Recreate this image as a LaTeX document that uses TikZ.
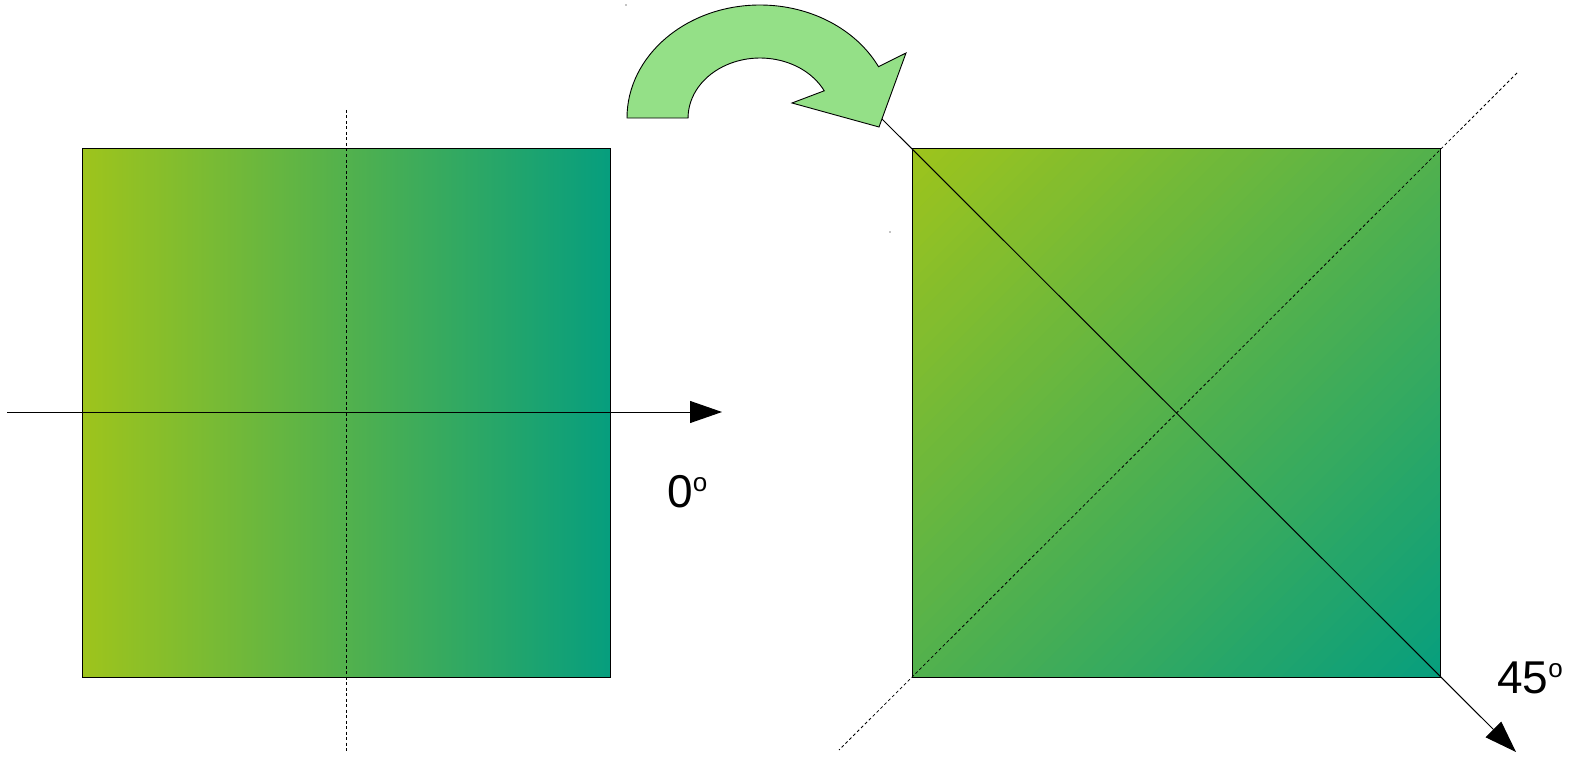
\documentclass[tikz,border=0pt]{standalone}
\usepackage{fontspec}
\setmainfont{Liberation Sans}
\usetikzlibrary{arrows.meta}
\definecolor{gA}{RGB}{158,196,28}
\definecolor{gB}{RGB}{6,158,126}
\definecolor{arrowgreen}{RGB}{148,224,135}
\begin{document}
\begin{tikzpicture}[x=1pt,y=-1pt,
  edge/.style={line width=1pt,black},
  dashline/.style={line width=0.8pt,black,dash pattern=on 3pt off 2.5pt},
  bigtip/.style={-{Triangle[length=32pt,width=22pt]}},
  lbl/.style={inner sep=0pt,anchor=base west,font=\fontsize{46}{46}\selectfont}]
\useasboundingbox (0,0) rectangle (1571,757);
% coordinates
\coordinate (L1) at (82,149);
\coordinate (L2) at (610,677);
\coordinate (R1) at (912,149);
\coordinate (R2) at (1440,677);
\coordinate (hs) at (7,412);
\coordinate (he) at (722,412);
\coordinate (vs) at (346,110);
\coordinate (ve) at (346,752);
\coordinate (ds) at (880,117);
\coordinate (de) at (1516,752);
\coordinate (ks) at (1517,73);
\coordinate (ke) at (839,750);
% left square
\shade[left color=gA,right color=gB] (L1) rectangle (L2);
\draw[edge] (L1) rectangle (L2);
% right square gradient (diagonal)
\begin{scope}
\clip (R1) rectangle (R2);
\foreach \i in {0,...,79}{
  \pgfmathsetmacro\ua{\i*13.2}
  \pgfmathsetmacro\ub{\i*13.2+14.2}
  \pgfmathsetmacro\pp{(\i+0.5)*1.25}
  \colorlet{cc}{gB!\pp!gA}
  \fill[cc] (912+\ua+700,149-700) -- (912+\ua-700,149+700)
            -- (912+\ub-700,149+700) -- (912+\ub+700,149-700) -- cycle;
}
\end{scope}
\draw[edge] (R1) rectangle (R2);
% dashed lines
\draw[dashline] (vs) -- (ve);
\draw[dashline] (ks) -- (ke);
% solid arrows
\draw[edge,bigtip] (hs) -- (he);
\draw[edge,bigtip] (ds) -- (de);
% curved arrow
\filldraw[fill=arrowgreen,draw=black,line width=0.9pt]
  (627,118) arc[start angle=180,end angle=333,x radius=133,y radius=113]
  -- (906,53) -- (879,127) -- (792,103) -- (824.2,90.8)
  arc[start angle=333,end angle=180,x radius=72,y radius=60] -- cycle;
% labels
\node[lbl] (z) at (667,507) {0\raisebox{16pt}{\fontsize{26}{26}\selectfont o}};
\node[lbl] (f) at (1497,693) {45\raisebox{16pt}{\fontsize{26}{26}\selectfont o}};
% tiny specks
\fill (626,5) circle (0.6);
\fill (890,232) circle (0.6);
\end{tikzpicture}
\end{document}
